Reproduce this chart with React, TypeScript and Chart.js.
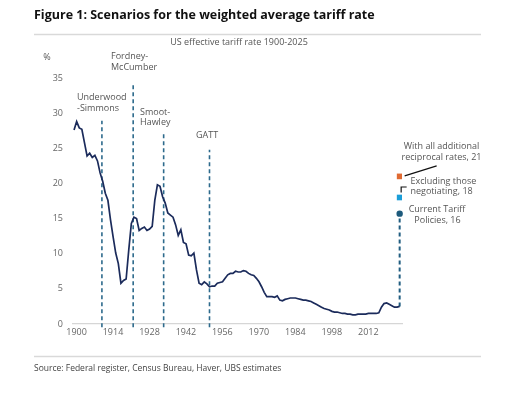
import React, { useEffect, useRef } from "react";
import { Chart, registerables } from "chart.js";

Chart.register(...registerables);

const YEARS = [
  1900, 1901, 1902, 1903, 1904, 1905, 1906, 1907, 1908, 1909,
  1910, 1911, 1912, 1913, 1914, 1915, 1916, 1917, 1918, 1919,
  1920, 1921, 1922, 1923, 1924, 1925, 1926, 1927, 1928, 1929,
  1930, 1931, 1932, 1933, 1934, 1935, 1936, 1937, 1938, 1939,
  1940, 1941, 1942, 1943, 1944, 1945, 1946, 1947, 1948, 1949,
  1950, 1951, 1952, 1953, 1954, 1955, 1956, 1957, 1958, 1959,
  1960, 1961, 1962, 1963, 1964, 1965, 1966, 1967, 1968, 1969,
  1970, 1971, 1972, 1973, 1974, 1975, 1976, 1977, 1978, 1979,
  1980, 1981, 1982, 1983, 1984, 1985, 1986, 1987, 1988, 1989,
  1990, 1991, 1992, 1993, 1994, 1995, 1996, 1997, 1998, 1999,
  2000, 2001, 2002, 2003, 2004, 2005, 2006, 2007, 2008, 2009,
  2010, 2011, 2012, 2013, 2014, 2015, 2016, 2017, 2018, 2019,
  2020, 2021, 2022, 2023, 2024, 2025,
];

const RATES = [
  27.6, 28.8, 27.9, 27.7, 25.8, 23.9, 24.3, 23.7, 24.0, 23.2,
  21.5, 20.3, 18.6, 17.6, 14.8, 12.4, 10.1, 8.6, 5.8, 6.2,
  6.4, 10.5, 14.3, 15.2, 15.0, 13.3, 13.6, 13.8, 13.3, 13.5,
  13.9, 17.6, 19.8, 19.6, 18.1, 17.2, 15.8, 15.5, 15.2, 14.1,
  12.6, 13.4, 11.6, 11.4, 9.8, 9.7, 10.1, 7.7, 5.8, 5.6,
  6.0, 5.7, 5.3, 5.4, 5.4, 5.8, 5.9, 6.0, 6.5, 7.0,
  7.2, 7.2, 7.5, 7.4, 7.4, 7.6, 7.5, 7.2, 7.0, 6.9,
  6.5, 6.0, 5.3, 4.5, 3.9, 3.9, 3.9, 3.8, 4.0, 3.4,
  3.3, 3.5, 3.6, 3.7, 3.7, 3.7, 3.6, 3.5, 3.4, 3.4,
  3.3, 3.2, 3.0, 2.8, 2.6, 2.4, 2.2, 2.1, 2.0, 1.8,
  1.7, 1.7, 1.6, 1.5, 1.5, 1.4, 1.4, 1.3, 1.3, 1.4,
  1.4, 1.4, 1.4, 1.5, 1.5, 1.5, 1.5, 1.6, 2.4, 2.9,
  3.0, 2.8, 2.6, 2.4, 2.4, 2.5,
];

const SCENARIO_YEAR = 2025;
const SCENARIO_CURRENT = 15.7; // "Current Tariff Policies, 16"
const SCENARIO_EXCL = 18; // "Excluding those negotiating, 18"
const SCENARIO_ALL = 21; // "With all additional reciprocal rates, 21"

const EVENT_NAMES = ["Underwood-Simmons", "Fordney-McCumber", "Smoot-Hawley", "GATT"];
const EVENT_YEARS = [1910.7, 1922.7, 1934.4, 1952.0];
const EVENT_TOPS = [28.9, 34.3, 27.0, 24.8];

const X_TICKS = [1900, 1914, 1928, 1942, 1956, 1970, 1984, 1998, 2012];
const Y_TICKS = [0, 5, 10, 15, 20, 25, 30, 35];

const FONT = "'Open Sans', 'Noto Sans', sans-serif";

const textPlugin = {
  id: "texts",
  afterDraw(chart: any) {
    const ctx = chart.ctx;
    ctx.save();
    // Title
    ctx.fillStyle = "#111";
    ctx.font = `bold 12.5px ${FONT}`;
    ctx.textBaseline = "middle";
    ctx.textAlign = "left";
    ctx.fillText("Figure 1: Scenarios for the weighted average tariff rate", 34, 15);
    // separators
    ctx.strokeStyle = "#d9d9d9";
    ctx.lineWidth = 1.5;
    ctx.beginPath();
    ctx.moveTo(34, 34.5);
    ctx.lineTo(481, 34.5);
    ctx.moveTo(34, 356.5);
    ctx.lineTo(481, 356.5);
    ctx.stroke();
    // subtitle
    ctx.fillStyle = "#555";
    ctx.font = `9px ${FONT}`;
    ctx.textAlign = "center";
    ctx.fillText("US effective tariff rate 1900-2025", 239, 42.5);
    // %
    ctx.fillText("%", 47, 57);
    // event labels
    ctx.fillStyle = "#555";
    ctx.textAlign = "left";
    ctx.font = `9px ${FONT}`;
    ctx.fillText("Underwood", 77, 97.5);
    ctx.fillText("-Simmons", 77, 108.5);
    ctx.fillText("Fordney-", 111, 56.5);
    ctx.fillText("McCumber", 111, 67.5);
    ctx.fillText("Smoot-", 140, 112);
    ctx.fillText("Hawley", 140, 122.5);
    ctx.fillText("GATT", 196, 135.5);
    // scenario labels
    ctx.textAlign = "center";
    ctx.fillText("With all additional", 441.5, 146);
    ctx.fillText(`reciprocal rates, ${SCENARIO_ALL}`, 441.5, 157);
    ctx.textAlign = "left";
    ctx.fillText("Excluding those", 410.5, 181);
    ctx.fillText(`negotiating, ${SCENARIO_EXCL}`, 410.5, 191.5);
    ctx.textAlign = "center";
    ctx.fillText("Current Tariff", 437, 209.5);
    ctx.fillText("Policies, 16", 437.5, 220);
    // leader lines
    const xs = chart.scales.x;
    const ys = chart.scales.y;
    const px = xs.getPixelForValue(SCENARIO_YEAR);
    const pAll = ys.getPixelForValue(SCENARIO_ALL);
    const pEx = ys.getPixelForValue(SCENARIO_EXCL);
    ctx.strokeStyle = "#111";
    ctx.lineWidth = 1.2;
    ctx.beginPath();
    ctx.moveTo(px + 5, pAll - 0.5);
    ctx.lineTo(px + 37, pAll - 10.5);
    ctx.moveTo(px + 1.5, pEx - 5);
    ctx.lineTo(px + 1.5, pEx - 10.5);
    ctx.lineTo(px + 7, pEx - 10.5);
    ctx.stroke();
    // source
    ctx.fillStyle = "#444";
    ctx.font = `8.5px ${FONT}`;
    ctx.textAlign = "left";
    ctx.fillText("Source: Federal register, Census Bureau, Haver, UBS estimates", 34, 369);
    ctx.restore();
  },
};

export default function App() {
  const ref = useRef<HTMLCanvasElement>(null);
  useEffect(() => {
    const eventSets = EVENT_YEARS.map((yr, i) => ({
      label: EVENT_NAMES[i],
      data: [
        { x: yr, y: -0.45 },
        { x: yr, y: EVENT_TOPS[i] },
      ],
      borderColor: "#2d6a8c",
      borderWidth: 1.6,
      borderDash: [4, 3],
      pointRadius: 0,
      clip: false,
      order: 5,
    }));
    const chart = new Chart(ref.current!, {
      type: "line",
      data: {
        datasets: [
          {
            label: "US effective tariff rate",
            data: YEARS.map((y, i) => ({ x: y, y: RATES[i] })),
            borderColor: "#1b2b5b",
            borderWidth: 1.7,
            pointRadius: 0,
            tension: 0,
            order: 1,
          },
          {
            label: "Current Tariff Policies",
            data: [
              { x: SCENARIO_YEAR, y: RATES[RATES.length - 1] },
              { x: SCENARIO_YEAR, y: SCENARIO_CURRENT },
            ],
            borderColor: "#215d80",
            borderWidth: 2,
            borderDash: [4, 3],
            pointRadius: [0, 3.2],
            pointBackgroundColor: "#1d5a7c",
            pointBorderWidth: 0,
            clip: false,
            order: 2,
          },
          {
            label: "Excluding those negotiating",
            data: [{ x: SCENARIO_YEAR, y: SCENARIO_EXCL }],
            showLine: false,
            pointStyle: "rect",
            pointRadius: 4,
            pointBackgroundColor: "#1b9ed8",
            pointBorderWidth: 0,
            order: 0,
          },
          {
            label: "With all additional reciprocal rates",
            data: [{ x: SCENARIO_YEAR, y: SCENARIO_ALL }],
            showLine: false,
            pointStyle: "rect",
            pointRadius: 4,
            pointBackgroundColor: "#e06a32",
            pointBorderWidth: 0,
            order: 0,
          },
          ...eventSets,
        ] as any,
      },
      options: {
        responsive: false,
        animation: false,
        layout: { padding: { left: 0, top: 78, right: 123, bottom: 50 } },
        plugins: { legend: { display: false }, title: { display: false }, tooltip: { enabled: false } },
        scales: {
          x: {
            type: "linear",
            min: 1899.6,
            max: 2025.9,
            afterBuildTicks: (s: any) => {
              s.ticks = X_TICKS.map((v) => ({ value: v }));
            },
            afterFit: (s: any) => {
              s.height = 20;
            },
            ticks: {
              autoSkip: false,
              maxRotation: 0,
              labelOffset: 2.5,
              padding: 3,
              color: "#666",
              font: { family: FONT, size: 9 },
              callback: (v: any) => String(v),
            },
            grid: { display: false, drawTicks: false },
            border: { display: true, color: "#d6d6d6", width: 1.2 },
          },
          y: {
            min: 0,
            max: 35,
            afterBuildTicks: (s: any) => {
              s.ticks = Y_TICKS.map((v) => ({ value: v }));
            },
            afterFit: (s: any) => {
              s.width = 73;
            },
            ticks: {
              padding: 10,
              color: "#666",
              font: { family: FONT, size: 9 },
            },
            grid: { display: false, drawTicks: false },
            border: { display: false },
          },
        },
      },
      plugins: [textPlugin],
    } as any);
    return () => chart.destroy();
  }, []);
  return (
    <div style={{ position: "absolute", left: 0, top: 0, width: 525, height: 394, background: "#fff" }}>
      <canvas ref={ref} width={525} height={394} />
    </div>
  );
}
